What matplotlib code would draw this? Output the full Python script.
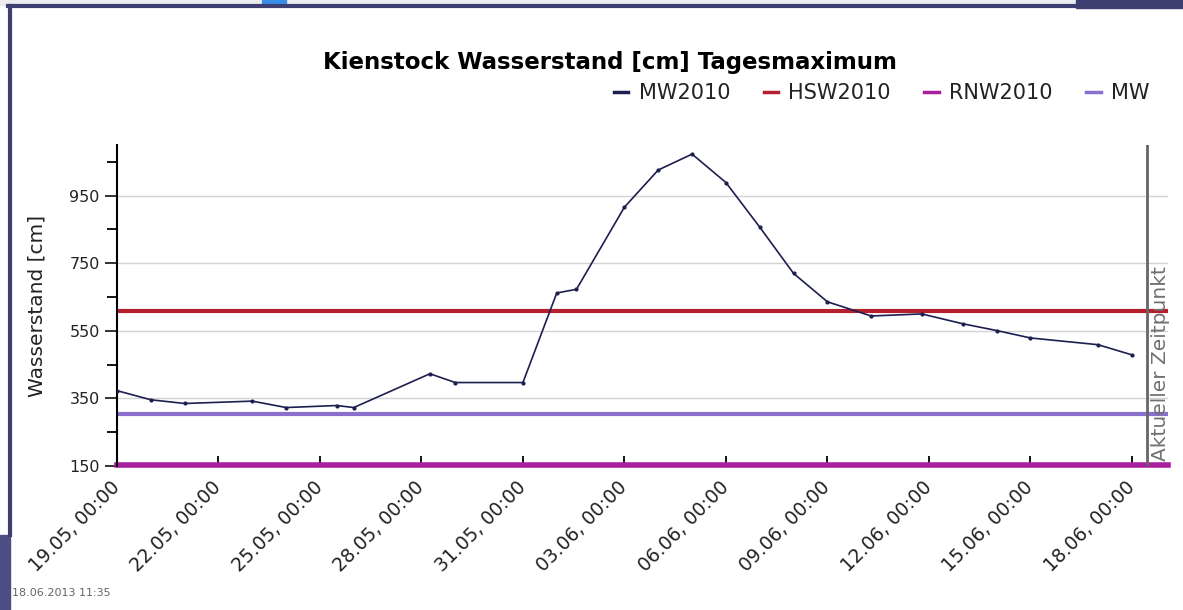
import matplotlib
matplotlib.use("Agg")
import matplotlib.pyplot as plt
import matplotlib.dates as mdates
from matplotlib.lines import Line2D
from matplotlib.patches import Rectangle
import pandas as pd

# daily maximum water level, Kienstock
dates = ["2013-05-19 00:00", "2013-05-20 00:00", "2013-05-21 00:00", "2013-05-23 00:00",
         "2013-05-24 00:00", "2013-05-25 12:00", "2013-05-26 00:00", "2013-05-28 06:00",
         "2013-05-29 00:00", "2013-05-31 00:00", "2013-06-01 00:00", "2013-06-01 14:00",
         "2013-06-03 00:00", "2013-06-04 00:00", "2013-06-05 00:00", "2013-06-06 00:00",
         "2013-06-07 00:00", "2013-06-08 00:00", "2013-06-09 00:00", "2013-06-10 07:00",
         "2013-06-11 19:00", "2013-06-13 00:00", "2013-06-14 00:00", "2013-06-15 00:00",
         "2013-06-17 00:00", "2013-06-18 00:00"]
values = [373, 346, 335, 342, 323, 329, 323, 423, 397, 397, 662, 673, 916, 1026,
          1073, 989, 857, 720, 636, 594, 600, 571, 551, 529, 509, 479]

hsw2010 = 610
mw = 305
rnw2010 = 153

x_start = "2013-05-19 00:00"
x_end = "2013-06-19 01:40"
now = "2013-06-18 10:30"
y_ticks = [150, 350, 550, 750, 950]
y_minor = [250, 450, 650, 850, 1050]

legend_labels = ["MW2010", "HSW2010", "RNW2010", "MW"]
c_line = "#1c1f4f"
c_hsw = "#b5202e"
c_rnw = "#a8209e"
c_mw = "#8a70cc"
c_frame = "#3c3f6f"

W, H = 1183, 610
fig = plt.figure(figsize=(W / 100, H / 100), dpi=100)


def fx(px):
    return px / W


def fy(py):
    return 1 - py / H


# screenshot frame
fig.patches.append(Rectangle((0, fy(5)), 1, 5 / H, transform=fig.transFigure,
                             color="#ececf0", zorder=0))
fig.patches.append(Rectangle((fx(262), fy(5)), 24 / W, 5 / H, transform=fig.transFigure,
                             color="#3a8ee8", zorder=1))
fig.patches.append(Rectangle((fx(1076), fy(8)), 107 / W, 8 / H, transform=fig.transFigure,
                             color=c_frame, zorder=1))
fig.patches.append(Rectangle((0, 0), 10 / W, 75 / H, transform=fig.transFigure,
                             color="#4c4d82", zorder=1))
fig.lines.append(Line2D([fx(8), 1], [fy(6), fy(6)], transform=fig.transFigure,
                        color=c_frame, lw=3))
fig.lines.append(Line2D([fx(9.5), fx(9.5)], [fy(6), fy(535)], transform=fig.transFigure,
                        color=c_frame, lw=3))
fig.text(fx(12), fy(593), "18.06.2013 11:35", fontsize=8, color="#666666", va="center")

ax = fig.add_axes([fx(117), fy(466), fx(1168 - 117), (466 - 145) / H])
x = pd.to_datetime(dates)

ax.grid(axis="y", color="#d4d4d4", lw=1)
ax.set_axisbelow(True)
ax.axhline(mw, color=c_mw, lw=3, zorder=2)
ax.axhline(hsw2010, color=c_hsw, lw=3, zorder=2)
ax.axhline(rnw2010, color=c_rnw, lw=4, zorder=2, clip_on=False)
ax.plot(x, values, color=c_line, lw=1.2, marker="o", ms=2, zorder=3)

now_t = pd.Timestamp(now)
ax.axvline(now_t, color="#666666", lw=2, zorder=3)
ax.text(now_t + pd.Timedelta(hours=10), 165, "Aktueller Zeitpunkt", rotation=90,
        fontsize=14.5, color="#707070", ha="center", va="bottom")

ax.set_xlim(pd.Timestamp(x_start), pd.Timestamp(x_end))
ax.set_ylim(150, 1100)
ax.set_yticks(y_ticks)
ax.set_yticks(y_minor, minor=True)
ax.tick_params(axis="y", which="major", direction="out", length=9, width=1.3,
               labelsize=11.5, colors="#222222")
ax.tick_params(axis="y", which="minor", direction="out", length=7, width=1.3)
ax.set_xticks(pd.date_range("2013-05-19", "2013-06-18", freq="3D"))
ax.xaxis.set_major_formatter(mdates.DateFormatter("%d.%m, %H:%M"))
ax.tick_params(axis="x", direction="in", length=7, width=1.3, labelsize=13.5,
               pad=13, labelcolor="#222222")
for lab in ax.get_xticklabels():
    lab.set_rotation(45)
    lab.set_ha("right")
    lab.set_va("center")
    lab.set_rotation_mode("anchor")
for s in ["top", "right", "bottom"]:
    ax.spines[s].set_visible(False)
ax.spines["left"].set_linewidth(1.5)
ax.set_ylabel("Wasserstand [cm]", fontsize=14.5, labelpad=16, color="#222222")

fig.text(fx(610), fy(63), "Kienstock Wasserstand [cm] Tagesmaximum", fontsize=16.5,
         fontweight="bold", ha="center", va="center")

handles = [Line2D([], [], color=c, lw=2.5) for c in [c_line, c_hsw, c_rnw, c_mw]]
fig.legend(handles, legend_labels, ncol=4, frameon=False, fontsize=15,
           loc="center right", bbox_to_anchor=(fx(1158), fy(93)),
           handlelength=0.7, handletextpad=0.5, columnspacing=1.6, borderaxespad=0,
           labelcolor="#222222")

fig.savefig("out.png", dpi=100)
